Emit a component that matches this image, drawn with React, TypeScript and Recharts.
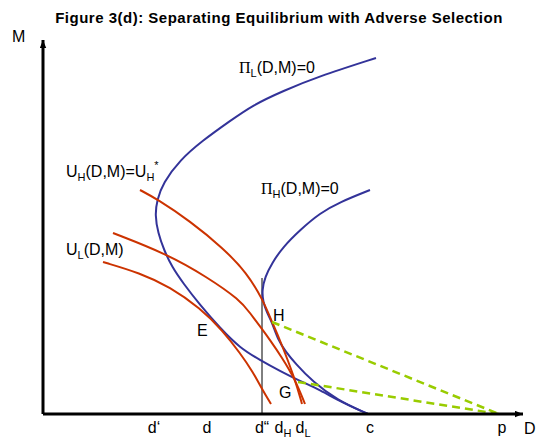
import React from 'react';
import { LineChart, Line, XAxis, YAxis, ReferenceLine } from 'recharts';

// schematic picture: D runs right, M runs up (units)
const piL = [
  { D: 333, M: 356 }, { D: 274, M: 337 }, { D: 240, M: 323 }, { D: 210, M: 309 },
  { D: 187, M: 293 }, { D: 159, M: 273 }, { D: 137, M: 254 }, { D: 120, M: 231 },
  { D: 114, M: 214 }, { D: 112, M: 199 }, { D: 115, M: 181 }, { D: 121, M: 164 },
  { D: 129, M: 147 }, { D: 140, M: 131 }, { D: 157, M: 109 }, { D: 177, M: 86 },
  { D: 197, M: 66 }, { D: 217, M: 54 }, { D: 237, M: 43 }, { D: 257, M: 33 },
  { D: 277, M: 24 }, { D: 300, M: 11 }, { D: 325, M: 0 },
];

const piH = [
  { D: 327, M: 224 }, { D: 297, M: 212 }, { D: 277, M: 201 }, { D: 257, M: 184 },
  { D: 240, M: 167 }, { D: 229, M: 151 }, { D: 222, M: 137 }, { D: 219, M: 124 },
  { D: 220, M: 112 }, { D: 224, M: 101 }, { D: 229, M: 92 }, { D: 235, M: 74 },
  { D: 243, M: 62 }, { D: 252, M: 51 }, { D: 270, M: 32 }, { D: 294, M: 14 },
  { D: 325, M: 0 },
];

// indifference curves
const uHstar = [
  { D: 97, M: 224 }, { D: 114, M: 215 }, { D: 147, M: 193 }, { D: 180, M: 166 },
  { D: 204, M: 141 }, { D: 220, M: 114 }, { D: 229, M: 92 }, { D: 237, M: 74 },
  { D: 252, M: 35 }, { D: 259, M: 10 },
];

const uLupper = [
  { D: 70, M: 181 }, { D: 124, M: 160 }, { D: 164, M: 137 }, { D: 197, M: 114 },
  { D: 207, M: 101 }, { D: 219, M: 85 }, { D: 227, M: 74 }, { D: 238, M: 58 },
  { D: 252, M: 35 }, { D: 262, M: 10 },
];

const uLlower = [
  { D: 60, M: 152 }, { D: 97, M: 141 }, { D: 127, M: 127 }, { D: 157, M: 106 },
  { D: 180, M: 83 }, { D: 197, M: 61 }, { D: 210, M: 42 }, { D: 219, M: 25 },
  { D: 228, M: 10 },
];

// dashed lines to p
const fromH = [{ D: 229, M: 92 }, { D: 456, M: 0 }];
const fromG = [{ D: 255, M: 32 }, { D: 456, M: 0 }];

const dPrime2 = 219;
const dPrime2Top = 136;

const dTicks = [111, 164, 219, 240, 260, 327, 459];
const dTickMain = ['d‘', 'd', 'd“', 'd', 'd', 'c', 'p'];
const dTickSub = ['', '', '', 'H', 'L', '', ''];

const font = "'Liberation Sans', Arial, sans-serif";
const blue = '#333399';
const red = '#cc3300';
const green = '#99cc00';

const DTick = ({ x, y, payload }: any) => {
  const i = dTicks.indexOf(payload.value);
  return (
    <text x={x} y={y + 19} textAnchor="middle" fontSize={16} fontFamily={font} fill="#000">
      {dTickMain[i]}
      {dTickSub[i] ? <tspan fontSize={11} dy={4}>{dTickSub[i]}</tspan> : null}
    </text>
  );
};

const Sub = ({ children }: any) => <tspan fontSize={11} dy={4}>{children}</tspan>;
const Up = ({ children }: any) => <tspan dy={-4}>{children}</tspan>;

export default function App() {
  return (
    <div style={{ position: 'absolute', left: 0, top: 0, width: 538, height: 440 }}>
      <LineChart width={538} height={440} margin={{ top: 40, right: 15, bottom: 0, left: 42 }}>
        <defs>
          <marker id="arrowHead" viewBox="0 0 10 8" refX="10" refY="4" markerWidth="8" markerHeight="7"
            orient="auto-start-reverse" markerUnits="userSpaceOnUse">
            <path d="M0,0 L10,4 L0,8 z" fill="#000" />
          </marker>
        </defs>
        <XAxis type="number" dataKey="D" domain={[0, 480]} allowDataOverflow ticks={dTicks}
          height={26} tickSize={0} tickMargin={0} tickLine={false} interval={0}
          axisLine={{ stroke: '#000', strokeWidth: 3, markerEnd: 'url(#arrowHead)' }}
          tick={<DTick />} />
        <YAxis type="number" domain={[0, 374]} allowDataOverflow width={1} tick={false} tickLine={false}
          axisLine={{ stroke: '#000', strokeWidth: 3, markerStart: 'url(#arrowHead)' }} />

        <ReferenceLine segment={[{ x: dPrime2, y: 0 }, { x: dPrime2, y: dPrime2Top }]} stroke="#000" strokeWidth={1} />

        <Line data={piL} dataKey="M" type="basis" stroke={blue} strokeWidth={2} dot={false} isAnimationActive={false} />
        <Line data={piH} dataKey="M" type="basis" stroke={blue} strokeWidth={2} dot={false} isAnimationActive={false} />
        <Line data={uHstar} dataKey="M" type="basis" stroke={red} strokeWidth={2} dot={false} isAnimationActive={false} />
        <Line data={uLupper} dataKey="M" type="basis" stroke={red} strokeWidth={2} dot={false} isAnimationActive={false} />
        <Line data={uLlower} dataKey="M" type="basis" stroke={red} strokeWidth={2} dot={false} isAnimationActive={false} />
        <Line data={fromH} dataKey="M" type="linear" stroke={green} strokeWidth={2.5} strokeDasharray="8 5" dot={false} isAnimationActive={false} />
        <Line data={fromG} dataKey="M" type="linear" stroke={green} strokeWidth={2.5} strokeDasharray="8 5" dot={false} isAnimationActive={false} />

        <text x={279} y={23} textAnchor="middle" fontSize={15} fontWeight="bold" letterSpacing={0.5} fontFamily={font} fill="#000">
          Figure 3(d): Separating Equilibrium with Adverse Selection
        </text>
        <text x={12} y={42} fontSize={16} fontFamily={font} fill="#000">M</text>
        <text x={524} y={434} fontSize={16} fontFamily={font} fill="#000">D</text>

        <text x={239} y={73} fontSize={16} fontFamily={font} fill="#000">
          <tspan fontFamily="'Liberation Serif', serif">Π</tspan><Sub>L</Sub><Up>(D,M)=0</Up>
        </text>
        <text x={261} y={194} fontSize={16} fontFamily={font} fill="#000">
          <tspan fontFamily="'Liberation Serif', serif">Π</tspan><Sub>H</Sub><Up>(D,M)=0</Up>
        </text>
        <text x={66} y={177} fontSize={16} fontFamily={font} fill="#000">
          U<Sub>H</Sub><Up>(D,M)=U</Up><Sub>H</Sub><tspan fontSize={11} dy={-12}>*</tspan>
        </text>
        <text x={66} y={255} fontSize={16} fontFamily={font} fill="#000">
          U<Sub>L</Sub><Up>(D,M)</Up>
        </text>
        <text x={197} y={336} fontSize={16} fontFamily={font} fill="#000">E</text>
        <text x={273} y={321} fontSize={16} fontFamily={font} fill="#000">H</text>
        <text x={279} y={398} fontSize={16} fontFamily={font} fill="#000">G</text>
      </LineChart>
    </div>
  );
}
